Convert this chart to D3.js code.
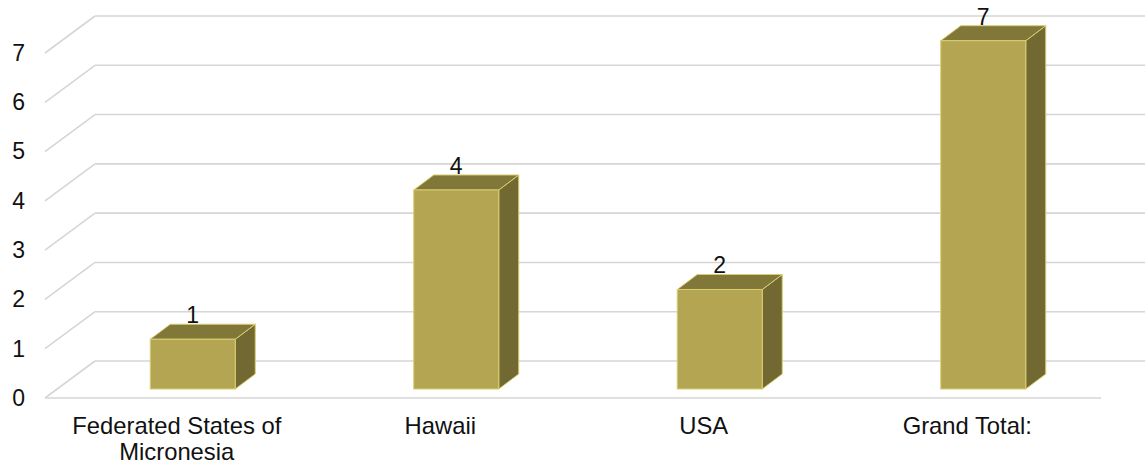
<!DOCTYPE html>
<html>
<head>
<meta charset="utf-8">
<script src="https://cdn.jsdelivr.net/npm/d3@7"></script>
<style>
  html, body { margin: 0; padding: 0; background: #fff; }
  svg { display: block; font-family: "Liberation Sans", Arial, sans-serif; }
</style>
</head>
<body>
<svg id="chart" width="1145" height="470"></svg>
<script>
const categories = ["Federated States of Micronesia", "Hawaii", "USA", "Grand Total:"];
const categoryLines = [["Federated States of", "Micronesia"], ["Hawaii"], ["USA"], ["Grand Total:"]];
const values = [1, 4, 2, 7];
const tickValues = [0, 1, 2, 3, 4, 5, 6, 7];

const svg = d3.select("#chart");
const W = 1145, H = 470;

// scales
const x = d3.scaleBand().domain(categories).range([45, 1099]).padding(0);
const yFront = d3.scaleLinear().domain([0, 7]).range([398, 53]);   // left wall front edge
const yBack = d3.scaleLinear().domain([0, 7]).range([361, 16]);    // back wall
const yBar = d3.scaleLinear().domain([0, 7]).range([389, 40.7]);   // bar front plane
const wallDx = 50;
const barOffsetX = 16;
const barW = 85;
const depthDx = 20, depthDy = -15;

const grid = svg.append("g").attr("class", "grid");
const gridColor = "#d6d6d6";

// back wall gridlines + left wall diagonals
tickValues.forEach(v => {
  grid.append("line")
    .attr("x1", 45 + wallDx).attr("y1", yBack(v))
    .attr("x2", W + 10).attr("y2", yBack(v))
    .attr("stroke", gridColor).attr("stroke-width", 1.6);
  grid.append("line")
    .attr("x1", 45).attr("y1", yFront(v))
    .attr("x2", 45 + wallDx).attr("y2", yBack(v))
    .attr("stroke", gridColor).attr("stroke-width", 1.6);
});
// front floor edge
grid.append("line")
  .attr("x1", 45).attr("y1", yFront(0))
  .attr("x2", 1101).attr("y2", yFront(0))
  .attr("stroke", gridColor).attr("stroke-width", 1.6);

// y axis labels
const yAxis = d3.axisLeft(yFront).tickValues(tickValues).tickSize(0).tickPadding(0).tickFormat(d3.format("d"));
const yg = svg.append("g").attr("transform", "translate(25,0)").call(yAxis);
yg.select(".domain").remove();
yg.selectAll("text").attr("font-size", 23).attr("fill", "#111")
  .attr("font-family", "'Liberation Sans', Arial, sans-serif");

// x axis labels
const xAxis = d3.axisBottom(x).tickSize(0).tickPadding(0).tickFormat("");
const xg = svg.append("g").attr("transform", "translate(0,0)").call(xAxis);
xg.select(".domain").remove();
xg.selectAll(".tick").each(function(d, i) {
  const t = d3.select(this).append("text")
    .attr("text-anchor", "middle")
    .attr("font-size", 23.8)
    .attr("fill", "#111")
    .attr("font-family", "'Liberation Sans', Arial, sans-serif");
  categoryLines[i].forEach((line, j) => {
    t.append("tspan").attr("x", 0).attr("y", 434 + j * 26).text(line);
  });
});

// bars
const frontColor = "#b3a552";
const topColor = "#817738";
const sideColor = "#716931";
const edgeColor = "#d8cd72";

const bars = svg.append("g").attr("class", "bars");
categories.forEach((c, i) => {
  const v = values[i];
  const cx = x(c) + x.bandwidth() / 2 + barOffsetX;
  const x0 = cx - barW / 2, x1 = cx + barW / 2;
  const yb = yBar(0), yt = yBar(v);
  const g = bars.append("g");
  // side face
  g.append("path")
    .attr("d", `M${x1},${yt} L${x1 + depthDx},${yt + depthDy} L${x1 + depthDx},${yb + depthDy} L${x1},${yb} Z`)
    .attr("fill", sideColor).attr("stroke", edgeColor).attr("stroke-width", 1).attr("stroke-linejoin", "round");
  // top face
  g.append("path")
    .attr("d", `M${x0},${yt} L${x0 + depthDx},${yt + depthDy} L${x1 + depthDx},${yt + depthDy} L${x1},${yt} Z`)
    .attr("fill", topColor).attr("stroke", edgeColor).attr("stroke-width", 1).attr("stroke-linejoin", "round");
  // front face
  g.append("rect")
    .attr("x", x0).attr("y", yt).attr("width", barW).attr("height", yb - yt)
    .attr("fill", frontColor).attr("stroke", edgeColor).attr("stroke-width", 1);
  // value label
  g.append("text")
    .attr("x", cx).attr("y", yt - 16)
    .attr("text-anchor", "middle")
    .attr("font-size", 23)
    .attr("fill", "#111")
    .attr("font-family", "'Liberation Sans', Arial, sans-serif")
    .text(v);
});
</script>
</body>
</html>
